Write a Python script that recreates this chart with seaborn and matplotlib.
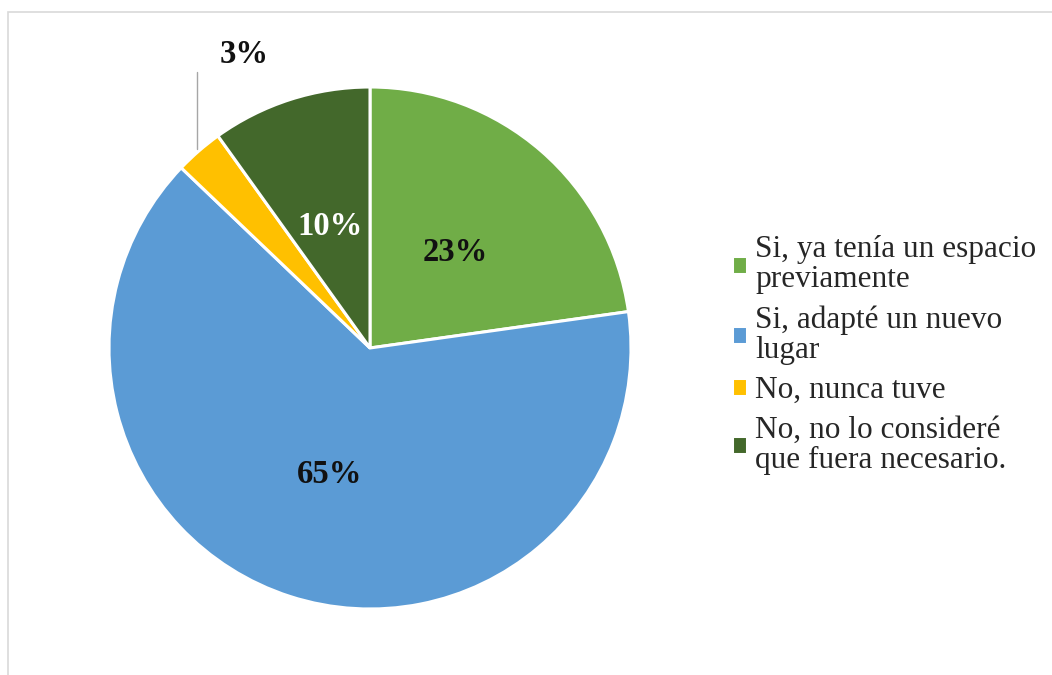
import numpy as np
import matplotlib.pyplot as plt
from matplotlib.patches import Rectangle
import seaborn as sns

# Survey answers and their shares (percent)
categories = ["Si, ya tenía un espacio\npreviamente",
              "Si, adapté un nuevo\nlugar",
              "No, nunca tuve",
              "No, no lo consideré\nque fuera necesario."]
values = [23, 65, 3, 10]
colors = ["#70AD47", "#5B9BD5", "#FFC000", "#43682B"]
label_colors = ["#111111", "#111111", "#111111", "white"]

sns.set_theme(style="white")
plt.rcParams['font.family'] = ['Liberation Serif', 'DejaVu Serif']

fig = plt.figure(figsize=(10.52, 6.75), dpi=100)

# light frame around the chart area
fig.patches.append(Rectangle((8 / 1052, -0.1), 1.2, (675 - 12) / 675 + 0.1,
                             transform=fig.transFigure, fill=False,
                             edgecolor="#d9d9d9", linewidth=1.2))

ax = fig.add_axes([109 / 1052, 66 / 675, 522 / 1052, 522 / 675])
wedges, _ = ax.pie(values, colors=colors, startangle=90, counterclock=False,
                   wedgeprops=dict(edgecolor="white", linewidth=2.2))
ax.set_xlim(-1, 1)
ax.set_ylim(-1, 1)
ax.set_aspect("equal")
ax.axis("off")

# percentage labels
for w, v, c in zip(wedges, values, label_colors):
    mid = np.deg2rad((w.theta1 + w.theta2) / 2)
    label = f"{v}%"
    if v < 5:
        # small slice: label outside with vertical leader line
        x0, y0 = np.cos(mid) * 1.01, np.sin(mid) * 1.01
        ax.plot([x0, x0], [y0, 1.057], color="#a6a6a6", lw=1, clip_on=False)
        ax.text(x0 + 0.18, 1.126, label, ha="center", va="center",
                fontsize=23.5, fontweight="bold", color=c)
    else:
        ax.text(np.cos(mid) * 0.5, np.sin(mid) * 0.5 - 0.01, label, ha="center",
                va="center", fontsize=23.5, fontweight="bold", color=c)

leg = fig.legend(wedges, categories, loc="center left",
                 bbox_to_anchor=(719 / 1052, 1 - 355 / 675), frameon=False,
                 fontsize=22.5, handlelength=0.5, handleheight=0.5,
                 handletextpad=0.25, labelspacing=0.35, borderaxespad=0)
for t in leg.get_texts():
    t.set_linespacing(1.05)

fig.savefig("out.png", dpi=100)
